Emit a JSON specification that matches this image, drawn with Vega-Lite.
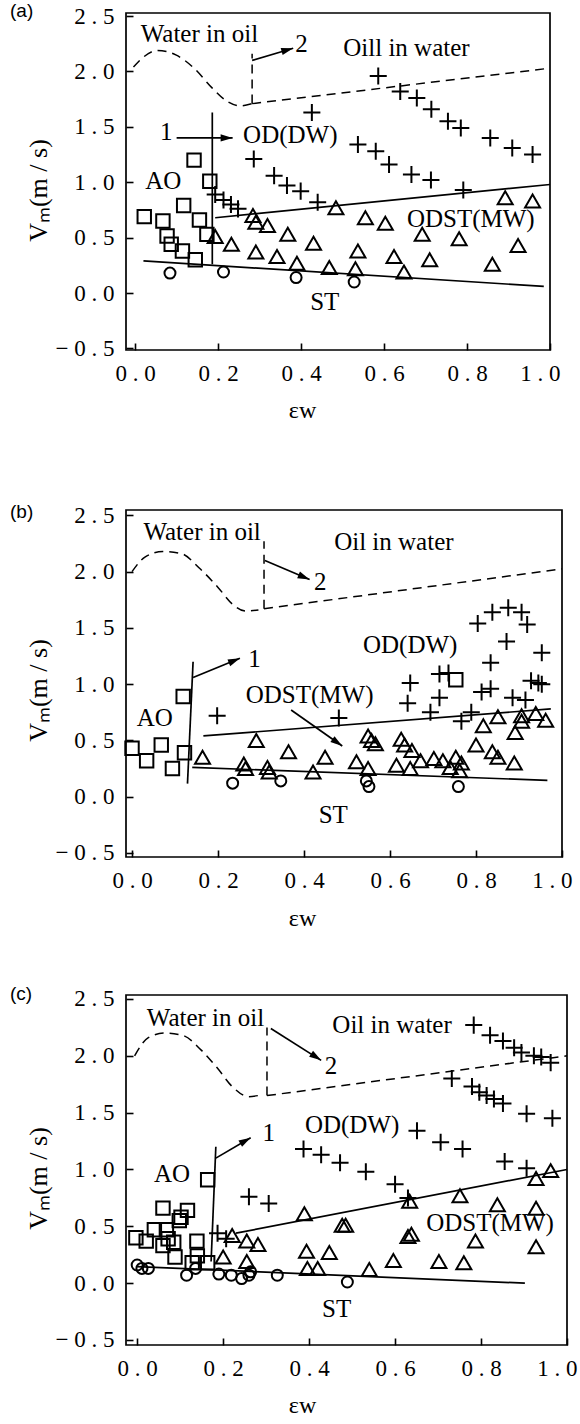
{
"$schema": "https://vega.github.io/schema/vega-lite/v6.json",
"autosize": "none",
"padding": {"left": 126, "top": 13, "right": 454, "bottom": 1411},
"background": "white",
"bounds": "flush",
"spacing": 0,
"config": {
 "view": {"stroke": "black", "strokeWidth": 1.7},
 "axis": {"domain": false, "grid": false, "tickColor": "black", "tickWidth": 1.6, "tickSize": -7, "labelFont": "Liberation Serif", "labelFontSize": 23, "labelColor": "black", "labelPadding": 19, "labelFlush": false, "labelOverlap": false, "labelBound": false, "titleFont": "Liberation Serif", "titleFontSize": 26, "titleFontWeight": "normal", "titleColor": "black", "titleAlign": "center", "titleBaseline": "middle"},
 "axisX": {"labelFlush": 1, "labelFlushOffset": 10, "titleFontSize": 24},
 "title": {"font": "Liberation Sans", "fontSize": 19, "fontWeight": "normal", "color": "black"}
},
"datasets": {
 "pts": [
  {"panel":"a","kind":"AO","x":0.022,"y":0.69},{"panel":"a","kind":"AO","x":0.067,"y":0.65},{"panel":"a","kind":"AO","x":0.077,"y":0.515},{"panel":"a","kind":"AO","x":0.087,"y":0.44},{"panel":"a","kind":"AO","x":0.114,"y":0.38},{"panel":"a","kind":"AO","x":0.117,"y":0.79},{"panel":"a","kind":"AO","x":0.142,"y":1.2},{"panel":"a","kind":"AO","x":0.145,"y":0.30},{"panel":"a","kind":"AO","x":0.155,"y":0.66},{"panel":"a","kind":"AO","x":0.173,"y":0.53},{"panel":"a","kind":"AO","x":0.18,"y":1.01},
  {"panel":"a","kind":"ST","x":0.084,"y":0.18},{"panel":"a","kind":"ST","x":0.213,"y":0.19},{"panel":"a","kind":"ST","x":0.388,"y":0.14},{"panel":"a","kind":"ST","x":0.528,"y":0.10},
  {"panel":"a","kind":"ODST","x":0.193,"y":0.51},{"panel":"a","kind":"ODST","x":0.232,"y":0.44},{"panel":"a","kind":"ODST","x":0.284,"y":0.70},{"panel":"a","kind":"ODST","x":0.291,"y":0.64},{"panel":"a","kind":"ODST","x":0.291,"y":0.37},{"panel":"a","kind":"ODST","x":0.319,"y":0.61},{"panel":"a","kind":"ODST","x":0.342,"y":0.33},{"panel":"a","kind":"ODST","x":0.368,"y":0.53},{"panel":"a","kind":"ODST","x":0.39,"y":0.27},{"panel":"a","kind":"ODST","x":0.43,"y":0.45},{"panel":"a","kind":"ODST","x":0.468,"y":0.23},{"panel":"a","kind":"ODST","x":0.484,"y":0.77},{"panel":"a","kind":"ODST","x":0.531,"y":0.22},{"panel":"a","kind":"ODST","x":0.537,"y":0.38},{"panel":"a","kind":"ODST","x":0.555,"y":0.68},{"panel":"a","kind":"ODST","x":0.603,"y":0.63},{"panel":"a","kind":"ODST","x":0.624,"y":0.33},{"panel":"a","kind":"ODST","x":0.648,"y":0.19},{"panel":"a","kind":"ODST","x":0.692,"y":0.53},{"panel":"a","kind":"ODST","x":0.71,"y":0.30},{"panel":"a","kind":"ODST","x":0.781,"y":0.49},{"panel":"a","kind":"ODST","x":0.861,"y":0.26},{"panel":"a","kind":"ODST","x":0.892,"y":0.86},{"panel":"a","kind":"ODST","x":0.923,"y":0.43},{"panel":"a","kind":"ODST","x":0.958,"y":0.83},
  {"panel":"a","kind":"OD","x":0.193,"y":0.89},{"panel":"a","kind":"OD","x":0.213,"y":0.84},{"panel":"a","kind":"OD","x":0.231,"y":0.80},{"panel":"a","kind":"OD","x":0.248,"y":0.76},{"panel":"a","kind":"OD","x":0.286,"y":1.21},{"panel":"a","kind":"OD","x":0.335,"y":1.06},{"panel":"a","kind":"OD","x":0.366,"y":0.97},{"panel":"a","kind":"OD","x":0.399,"y":0.92},{"panel":"a","kind":"OD","x":0.44,"y":0.82},{"panel":"a","kind":"OD","x":0.426,"y":1.63},{"panel":"a","kind":"OD","x":0.537,"y":1.34},{"panel":"a","kind":"OD","x":0.58,"y":1.28},{"panel":"a","kind":"OD","x":0.612,"y":1.16},{"panel":"a","kind":"OD","x":0.666,"y":1.07},{"panel":"a","kind":"OD","x":0.713,"y":1.02},{"panel":"a","kind":"OD","x":0.791,"y":0.93},{"panel":"a","kind":"OD","x":0.586,"y":1.96},{"panel":"a","kind":"OD","x":0.639,"y":1.82},{"panel":"a","kind":"OD","x":0.679,"y":1.76},{"panel":"a","kind":"OD","x":0.714,"y":1.66},{"panel":"a","kind":"OD","x":0.754,"y":1.55},{"panel":"a","kind":"OD","x":0.785,"y":1.49},{"panel":"a","kind":"OD","x":0.856,"y":1.40},{"panel":"a","kind":"OD","x":0.909,"y":1.31},{"panel":"a","kind":"OD","x":0.958,"y":1.25},
  {"panel":"b","kind":"AO","x":0.0,"y":0.43},{"panel":"b","kind":"AO","x":0.034,"y":0.32},{"panel":"b","kind":"AO","x":0.068,"y":0.46},{"panel":"b","kind":"AO","x":0.094,"y":0.25},{"panel":"b","kind":"AO","x":0.122,"y":0.39},{"panel":"b","kind":"AO","x":0.119,"y":0.89},{"panel":"b","kind":"AO","x":0.753,"y":1.04},
  {"panel":"b","kind":"ST","x":0.234,"y":0.12},{"panel":"b","kind":"ST","x":0.346,"y":0.14},{"panel":"b","kind":"ST","x":0.545,"y":0.14},{"panel":"b","kind":"ST","x":0.551,"y":0.09},{"panel":"b","kind":"ST","x":0.759,"y":0.09},
  {"panel":"b","kind":"ODST","x":0.164,"y":0.35},{"panel":"b","kind":"ODST","x":0.289,"y":0.50},{"panel":"b","kind":"ODST","x":0.26,"y":0.29},{"panel":"b","kind":"ODST","x":0.264,"y":0.25},{"panel":"b","kind":"ODST","x":0.315,"y":0.26},{"panel":"b","kind":"ODST","x":0.319,"y":0.22},{"panel":"b","kind":"ODST","x":0.364,"y":0.40},{"panel":"b","kind":"ODST","x":0.421,"y":0.22},{"panel":"b","kind":"ODST","x":0.449,"y":0.35},{"panel":"b","kind":"ODST","x":0.522,"y":0.31},{"panel":"b","kind":"ODST","x":0.549,"y":0.54},{"panel":"b","kind":"ODST","x":0.549,"y":0.25},{"panel":"b","kind":"ODST","x":0.557,"y":0.50},{"panel":"b","kind":"ODST","x":0.566,"y":0.47},{"panel":"b","kind":"ODST","x":0.615,"y":0.28},{"panel":"b","kind":"ODST","x":0.626,"y":0.51},{"panel":"b","kind":"ODST","x":0.634,"y":0.46},{"panel":"b","kind":"ODST","x":0.647,"y":0.25},{"panel":"b","kind":"ODST","x":0.651,"y":0.41},{"panel":"b","kind":"ODST","x":0.671,"y":0.32},{"panel":"b","kind":"ODST","x":0.702,"y":0.34},{"panel":"b","kind":"ODST","x":0.723,"y":0.32},{"panel":"b","kind":"ODST","x":0.74,"y":0.26},{"panel":"b","kind":"ODST","x":0.753,"y":0.35},{"panel":"b","kind":"ODST","x":0.762,"y":0.23},{"panel":"b","kind":"ODST","x":0.766,"y":0.30},{"panel":"b","kind":"ODST","x":0.80,"y":0.46},{"panel":"b","kind":"ODST","x":0.817,"y":0.63},{"panel":"b","kind":"ODST","x":0.838,"y":0.40},{"panel":"b","kind":"ODST","x":0.851,"y":0.35},{"panel":"b","kind":"ODST","x":0.851,"y":0.71},{"panel":"b","kind":"ODST","x":0.889,"y":0.30},{"panel":"b","kind":"ODST","x":0.891,"y":0.57},{"panel":"b","kind":"ODST","x":0.906,"y":0.67},{"panel":"b","kind":"ODST","x":0.906,"y":0.72},{"panel":"b","kind":"ODST","x":0.939,"y":0.74},{"panel":"b","kind":"ODST","x":0.962,"y":0.68},
  {"panel":"b","kind":"OD","x":0.198,"y":0.72},{"panel":"b","kind":"OD","x":0.481,"y":0.70},{"panel":"b","kind":"OD","x":0.641,"y":0.83},{"panel":"b","kind":"OD","x":0.647,"y":1.01},{"panel":"b","kind":"OD","x":0.694,"y":0.75},{"panel":"b","kind":"OD","x":0.715,"y":0.88},{"panel":"b","kind":"OD","x":0.715,"y":1.09},{"panel":"b","kind":"OD","x":0.736,"y":1.10},{"panel":"b","kind":"OD","x":0.766,"y":0.67},{"panel":"b","kind":"OD","x":0.789,"y":0.75},{"panel":"b","kind":"OD","x":0.804,"y":1.54},{"panel":"b","kind":"OD","x":0.813,"y":0.93},{"panel":"b","kind":"OD","x":0.834,"y":0.96},{"panel":"b","kind":"OD","x":0.834,"y":1.19},{"panel":"b","kind":"OD","x":0.838,"y":1.64},{"panel":"b","kind":"OD","x":0.871,"y":1.38},{"panel":"b","kind":"OD","x":0.875,"y":1.68},{"panel":"b","kind":"OD","x":0.885,"y":0.88},{"panel":"b","kind":"OD","x":0.906,"y":1.64},{"panel":"b","kind":"OD","x":0.915,"y":0.86},{"panel":"b","kind":"OD","x":0.919,"y":1.53},{"panel":"b","kind":"OD","x":0.928,"y":1.03},{"panel":"b","kind":"OD","x":0.945,"y":1.01},{"panel":"b","kind":"OD","x":0.953,"y":1.28},{"panel":"b","kind":"OD","x":0.953,"y":1.0},
  {"panel":"c","kind":"AO","x":-0.003,"y":0.40},{"panel":"c","kind":"AO","x":0.021,"y":0.37},{"panel":"c","kind":"AO","x":0.04,"y":0.47},{"panel":"c","kind":"AO","x":0.06,"y":0.66},{"panel":"c","kind":"AO","x":0.06,"y":0.33},{"panel":"c","kind":"AO","x":0.068,"y":0.47},{"panel":"c","kind":"AO","x":0.072,"y":0.39},{"panel":"c","kind":"AO","x":0.085,"y":0.36},{"panel":"c","kind":"AO","x":0.088,"y":0.23},{"panel":"c","kind":"AO","x":0.098,"y":0.55},{"panel":"c","kind":"AO","x":0.102,"y":0.58},{"panel":"c","kind":"AO","x":0.117,"y":0.64},{"panel":"c","kind":"AO","x":0.128,"y":0.18},{"panel":"c","kind":"AO","x":0.139,"y":0.37},{"panel":"c","kind":"AO","x":0.14,"y":0.24},{"panel":"c","kind":"AO","x":0.164,"y":0.18},{"panel":"c","kind":"AO","x":0.164,"y":0.91},
  {"panel":"c","kind":"ST","x":0.0,"y":0.16},{"panel":"c","kind":"ST","x":0.011,"y":0.13},{"panel":"c","kind":"ST","x":0.026,"y":0.13},{"panel":"c","kind":"ST","x":0.115,"y":0.07},{"panel":"c","kind":"ST","x":0.136,"y":0.13},{"panel":"c","kind":"ST","x":0.19,"y":0.08},{"panel":"c","kind":"ST","x":0.219,"y":0.07},{"panel":"c","kind":"ST","x":0.243,"y":0.04},{"panel":"c","kind":"ST","x":0.26,"y":0.07},{"panel":"c","kind":"ST","x":0.264,"y":0.10},{"panel":"c","kind":"ST","x":0.326,"y":0.07},{"panel":"c","kind":"ST","x":0.489,"y":0.01},
  {"panel":"c","kind":"ODST","x":0.2,"y":0.23},{"panel":"c","kind":"ODST","x":0.221,"y":0.42},{"panel":"c","kind":"ODST","x":0.255,"y":0.37},{"panel":"c","kind":"ODST","x":0.255,"y":0.19},{"panel":"c","kind":"ODST","x":0.281,"y":0.34},{"panel":"c","kind":"ODST","x":0.389,"y":0.61},{"panel":"c","kind":"ODST","x":0.394,"y":0.28},{"panel":"c","kind":"ODST","x":0.396,"y":0.13},{"panel":"c","kind":"ODST","x":0.42,"y":0.13},{"panel":"c","kind":"ODST","x":0.447,"y":0.27},{"panel":"c","kind":"ODST","x":0.477,"y":0.51},{"panel":"c","kind":"ODST","x":0.485,"y":0.51},{"panel":"c","kind":"ODST","x":0.54,"y":0.12},{"panel":"c","kind":"ODST","x":0.596,"y":0.20},{"panel":"c","kind":"ODST","x":0.63,"y":0.41},{"panel":"c","kind":"ODST","x":0.638,"y":0.43},{"panel":"c","kind":"ODST","x":0.634,"y":0.72},{"panel":"c","kind":"ODST","x":0.702,"y":0.19},{"panel":"c","kind":"ODST","x":0.751,"y":0.77},{"panel":"c","kind":"ODST","x":0.76,"y":0.18},{"panel":"c","kind":"ODST","x":0.787,"y":0.37},{"panel":"c","kind":"ODST","x":0.838,"y":0.69},{"panel":"c","kind":"ODST","x":0.928,"y":0.66},{"panel":"c","kind":"ODST","x":0.928,"y":0.32},{"panel":"c","kind":"ODST","x":0.928,"y":0.92},{"panel":"c","kind":"ODST","x":0.962,"y":0.99},
  {"panel":"c","kind":"OD","x":0.187,"y":0.44},{"panel":"c","kind":"OD","x":0.207,"y":0.39},{"panel":"c","kind":"OD","x":0.26,"y":0.76},{"panel":"c","kind":"OD","x":0.306,"y":0.70},{"panel":"c","kind":"OD","x":0.387,"y":1.18},{"panel":"c","kind":"OD","x":0.428,"y":1.13},{"panel":"c","kind":"OD","x":0.472,"y":1.06},{"panel":"c","kind":"OD","x":0.532,"y":0.98},{"panel":"c","kind":"OD","x":0.6,"y":0.87},{"panel":"c","kind":"OD","x":0.63,"y":0.75},{"panel":"c","kind":"OD","x":0.651,"y":1.34},{"panel":"c","kind":"OD","x":0.706,"y":1.24},{"panel":"c","kind":"OD","x":0.757,"y":1.18},{"panel":"c","kind":"OD","x":0.855,"y":1.07},{"panel":"c","kind":"OD","x":0.906,"y":1.01},{"panel":"c","kind":"OD","x":0.732,"y":1.80},{"panel":"c","kind":"OD","x":0.779,"y":1.73},{"panel":"c","kind":"OD","x":0.796,"y":1.68},{"panel":"c","kind":"OD","x":0.813,"y":1.65},{"panel":"c","kind":"OD","x":0.83,"y":1.62},{"panel":"c","kind":"OD","x":0.851,"y":1.58},{"panel":"c","kind":"OD","x":0.906,"y":1.49},{"panel":"c","kind":"OD","x":0.966,"y":1.45},{"panel":"c","kind":"OD","x":0.783,"y":2.27},{"panel":"c","kind":"OD","x":0.821,"y":2.18},{"panel":"c","kind":"OD","x":0.851,"y":2.13},{"panel":"c","kind":"OD","x":0.877,"y":2.07},{"panel":"c","kind":"OD","x":0.894,"y":2.03},{"panel":"c","kind":"OD","x":0.923,"y":2.0},{"panel":"c","kind":"OD","x":0.94,"y":1.99},{"panel":"c","kind":"OD","x":0.962,"y":1.94}
 ],
 "lines": [
  {"panel":"a","kind":"boundary","seg":"st","ord":1,"x":0.02,"y":0.29},{"panel":"a","kind":"boundary","seg":"st","ord":2,"x":0.985,"y":0.06},
  {"panel":"a","kind":"boundary","seg":"v1","ord":1,"x":0.186,"y":0.26},{"panel":"a","kind":"boundary","seg":"v1","ord":2,"x":0.186,"y":1.63},
  {"panel":"a","kind":"boundary","seg":"od","ord":1,"x":0.193,"y":0.68},{"panel":"a","kind":"boundary","seg":"od","ord":2,"x":1.0,"y":0.98},
  {"panel":"a","kind":"pointer","seg":"p1","ord":1,"x":0.10,"y":1.40},{"panel":"a","kind":"pointer","seg":"p1","ord":2,"x":0.235,"y":1.40},
  {"panel":"a","kind":"pointer","seg":"p2","ord":1,"x":0.282,"y":2.10},{"panel":"a","kind":"pointer","seg":"p2","ord":2,"x":0.381,"y":2.21},
  {"panel":"a","kind":"curve","seg":"c","ord":1,"x":-0.004,"y":2.04},{"panel":"a","kind":"curve","seg":"c","ord":2,"x":0.02,"y":2.13},{"panel":"a","kind":"curve","seg":"c","ord":3,"x":0.053,"y":2.19},{"panel":"a","kind":"curve","seg":"c","ord":4,"x":0.098,"y":2.15},{"panel":"a","kind":"curve","seg":"c","ord":5,"x":0.142,"y":2.03},{"panel":"a","kind":"curve","seg":"c","ord":6,"x":0.186,"y":1.85},{"panel":"a","kind":"curve","seg":"c","ord":7,"x":0.222,"y":1.73},{"panel":"a","kind":"curve","seg":"c","ord":8,"x":0.253,"y":1.69},{"panel":"a","kind":"curve","seg":"c","ord":9,"x":0.282,"y":1.71},
  {"panel":"a","kind":"transition","seg":"tv","ord":1,"x":0.282,"y":1.71},{"panel":"a","kind":"transition","seg":"tv","ord":2,"x":0.282,"y":2.16},
  {"panel":"a","kind":"transition","seg":"tl","ord":1,"x":0.282,"y":1.71},{"panel":"a","kind":"transition","seg":"tl","ord":2,"x":1.0,"y":2.03},
  {"panel":"b","kind":"boundary","seg":"st","ord":1,"x":0.14,"y":0.26},{"panel":"b","kind":"boundary","seg":"st","ord":2,"x":0.966,"y":0.145},
  {"panel":"b","kind":"boundary","seg":"v1","ord":1,"x":0.129,"y":0.116},{"panel":"b","kind":"boundary","seg":"v1","ord":2,"x":0.142,"y":1.20},
  {"panel":"b","kind":"boundary","seg":"od","ord":1,"x":0.166,"y":0.54},{"panel":"b","kind":"boundary","seg":"od","ord":2,"x":0.974,"y":0.78},
  {"panel":"b","kind":"pointer","seg":"p1","ord":1,"x":0.142,"y":1.06},{"panel":"b","kind":"pointer","seg":"p1","ord":2,"x":0.251,"y":1.23},
  {"panel":"b","kind":"pointer","seg":"p2","ord":1,"x":0.309,"y":2.10},{"panel":"b","kind":"pointer","seg":"p2","ord":2,"x":0.413,"y":1.93},
  {"panel":"b","kind":"pointer","seg":"pm","ord":1,"x":0.37,"y":0.77},{"panel":"b","kind":"pointer","seg":"pm","ord":2,"x":0.489,"y":0.45},
  {"panel":"b","kind":"curve","seg":"c","ord":1,"x":0.0,"y":2.0},{"panel":"b","kind":"curve","seg":"c","ord":2,"x":0.03,"y":2.13},{"panel":"b","kind":"curve","seg":"c","ord":3,"x":0.072,"y":2.18},{"panel":"b","kind":"curve","seg":"c","ord":4,"x":0.115,"y":2.16},{"panel":"b","kind":"curve","seg":"c","ord":5,"x":0.157,"y":2.03},{"panel":"b","kind":"curve","seg":"c","ord":6,"x":0.2,"y":1.86},{"panel":"b","kind":"curve","seg":"c","ord":7,"x":0.234,"y":1.71},{"panel":"b","kind":"curve","seg":"c","ord":8,"x":0.264,"y":1.65},{"panel":"b","kind":"curve","seg":"c","ord":9,"x":0.294,"y":1.66},
  {"panel":"b","kind":"transition","seg":"tv","ord":1,"x":0.307,"y":1.67},{"panel":"b","kind":"transition","seg":"tv","ord":2,"x":0.307,"y":2.27},
  {"panel":"b","kind":"transition","seg":"tl","ord":1,"x":0.307,"y":1.67},{"panel":"b","kind":"transition","seg":"tl","ord":2,"x":1.0,"y":2.025},
  {"panel":"c","kind":"boundary","seg":"st","ord":1,"x":0.0,"y":0.146},{"panel":"c","kind":"boundary","seg":"st","ord":2,"x":0.902,"y":0.0},
  {"panel":"c","kind":"boundary","seg":"v1","ord":1,"x":0.172,"y":0.19},{"panel":"c","kind":"boundary","seg":"v1","ord":2,"x":0.183,"y":1.2},
  {"panel":"c","kind":"boundary","seg":"od","ord":1,"x":0.23,"y":0.44},{"panel":"c","kind":"boundary","seg":"od","ord":2,"x":1.0,"y":1.0},
  {"panel":"c","kind":"pointer","seg":"p1","ord":1,"x":0.183,"y":1.10},{"panel":"c","kind":"pointer","seg":"p1","ord":2,"x":0.264,"y":1.28},
  {"panel":"c","kind":"pointer","seg":"p2","ord":1,"x":0.311,"y":2.24},{"panel":"c","kind":"pointer","seg":"p2","ord":2,"x":0.428,"y":1.96},
  {"panel":"c","kind":"curve","seg":"c","ord":1,"x":-0.006,"y":2.0},{"panel":"c","kind":"curve","seg":"c","ord":2,"x":0.026,"y":2.16},{"panel":"c","kind":"curve","seg":"c","ord":3,"x":0.064,"y":2.2},{"panel":"c","kind":"curve","seg":"c","ord":4,"x":0.106,"y":2.18},{"panel":"c","kind":"curve","seg":"c","ord":5,"x":0.149,"y":2.05},{"panel":"c","kind":"curve","seg":"c","ord":6,"x":0.187,"y":1.89},{"panel":"c","kind":"curve","seg":"c","ord":7,"x":0.221,"y":1.73},{"panel":"c","kind":"curve","seg":"c","ord":8,"x":0.26,"y":1.64},{"panel":"c","kind":"curve","seg":"c","ord":9,"x":0.281,"y":1.65},
  {"panel":"c","kind":"transition","seg":"tv","ord":1,"x":0.302,"y":1.65},{"panel":"c","kind":"transition","seg":"tv","ord":2,"x":0.302,"y":2.25},
  {"panel":"c","kind":"transition","seg":"tl","ord":1,"x":0.302,"y":1.65},{"panel":"c","kind":"transition","seg":"tl","ord":2,"x":1.0,"y":2.0}
 ],
 "labels": [
  {"panel":"a","label":"Water in oil","x":0.155,"y":2.34},{"panel":"a","label":"Oill in water","x":0.654,"y":2.21},{"panel":"a","label":"2","x":0.401,"y":2.25},{"panel":"a","label":"1","x":0.075,"y":1.45},{"panel":"a","label":"OD(DW)","x":0.374,"y":1.43},{"panel":"a","label":"AO","x":0.068,"y":1.01},{"panel":"a","label":"ODST(MW)","x":0.809,"y":0.667},{"panel":"a","label":"ST","x":0.457,"y":-0.08},
  {"panel":"b","label":"Water in oil","x":0.163,"y":2.35},{"panel":"b","label":"Oil in water","x":0.609,"y":2.26},{"panel":"b","label":"2","x":0.438,"y":1.91},{"panel":"b","label":"1","x":0.285,"y":1.22},{"panel":"b","label":"OD(DW)","x":0.647,"y":1.35},{"panel":"b","label":"ODST(MW)","x":0.413,"y":0.90},{"panel":"b","label":"AO","x":0.053,"y":0.70},{"panel":"b","label":"ST","x":0.468,"y":-0.165},
  {"panel":"c","label":"Water in oil","x":0.159,"y":2.33},{"panel":"c","label":"Oil in water","x":0.593,"y":2.27},{"panel":"c","label":"2","x":0.451,"y":1.91},{"panel":"c","label":"1","x":0.306,"y":1.32},{"panel":"c","label":"OD(DW)","x":0.50,"y":1.39},{"panel":"c","label":"AO","x":0.081,"y":0.96},{"panel":"c","label":"ODST(MW)","x":0.821,"y":0.53},{"panel":"c","label":"ST","x":0.464,"y":-0.23}
 ],
 "arrows": [
  {"panel":"a","kind":"arr-16","x":0.381,"y":2.21},{"panel":"a","kind":"arr0","x":0.235,"y":1.40},
  {"panel":"b","kind":"arr23","x":0.413,"y":1.93},{"panel":"b","kind":"arr-22","x":0.251,"y":1.23},{"panel":"b","kind":"arr35","x":0.489,"y":0.45},
  {"panel":"c","kind":"arr33","x":0.428,"y":1.96},{"panel":"c","kind":"arr-30","x":0.264,"y":1.28}
 ]
},
"vconcat": [
 {
  "width": 424, "height": 337,
  "title": {"text": "(a)", "anchor": "start", "frame": "group", "offset": 0, "baseline": "middle", "dx": -116, "dy": 25},
  "encoding": {
   "x": {"field": "x", "type": "quantitative", "scale": {"domain": [-0.022, 1.0], "nice": false, "zero": false}, "axis": {"values": [0, 0.2, 0.4, 0.6, 0.8, 1.0], "format": ".1f", "labelExpr": "replace(replace(datum.label, '.', ' . '), '\u2212', '\u2212 ')", "title": "εw", "titleX": 176, "titleY": 60}},
   "y": {"field": "y", "type": "quantitative", "scale": {"domain": [-0.514, 2.528], "nice": false, "zero": false}, "axis": {"values": [-0.5, 0, 0.5, 1, 1.5, 2, 2.5], "format": ".1f", "labelExpr": "replace(replace(datum.label, '.', ' . '), '\u2212', '\u2212 ')", "title": "Vₘ(m / s)", "titleX": -88, "titleY": 177}}
  },
  "layer": [
   {"data": {"name": "lines"}, "transform": [{"filter": "datum.panel === 'a' && (datum.kind === 'boundary' || datum.kind === 'pointer')"}], "mark": {"type": "line", "color": "black", "strokeWidth": 1.7}, "encoding": {"detail": {"field": "seg"}, "order": {"field": "ord"}}},
   {"data": {"name": "lines"}, "transform": [{"filter": "datum.panel === 'a' && datum.kind === 'transition'"}], "mark": {"type": "line", "color": "black", "strokeWidth": 1.5, "strokeDash": [9, 6]}, "encoding": {"detail": {"field": "seg"}, "order": {"field": "ord"}}},
   {"data": {"name": "lines"}, "transform": [{"filter": "datum.panel === 'a' && datum.kind === 'curve'"}], "mark": {"type": "line", "color": "black", "strokeWidth": 1.5, "strokeDash": [9, 6], "interpolate": "monotone"}, "encoding": {"detail": {"field": "seg"}, "order": {"field": "ord"}}},
   {"data": {"name": "pts"}, "transform": [{"filter": "datum.panel === 'a'"}], "mark": {"type": "point", "filled": false, "stroke": "black", "strokeWidth": 2, "opacity": 1},
    "encoding": {"shape": {"field": "kind", "type": "nominal", "legend": null, "scale": {"domain": ["AO","ST","ODST","OD","arr0","arr-16","arr23","arr-22","arr35","arr33","arr-30"], "range": ["square","circle","triangle-up","M-1,0L1,0M0,-1L0,1","M0,0L-1,0.3L-1,-0.3Z","M0,0L-0.878,0.564L-1.044,-0.012Z","M0,0L-1.038,-0.115L-0.804,-0.667Z","M0,0L-0.815,0.653L-1.04,0.097Z","M0,0L-0.991,-0.328L-0.647,-0.82Z","M0,0L-1.003,-0.293L-0.675,-0.797Z","M0,0L-0.716,0.76L-1.016,0.24Z"]}},
     "size": {"field": "kind", "type": "nominal", "legend": null, "scale": {"type": "ordinal", "domain": ["AO","ST","ODST","OD"], "range": [180, 121, 225, 290]}}}},
   {"data": {"name": "labels"}, "transform": [{"filter": "datum.panel === 'a'"}], "mark": {"type": "text", "font": "Liberation Serif", "fontSize": 25, "align": "center", "baseline": "middle", "color": "black"}, "encoding": {"text": {"field": "label"}}},
   {"data": {"name": "arrows"}, "transform": [{"filter": "datum.panel === 'a'"}], "mark": {"type": "point", "filled": true, "color": "black", "opacity": 1, "size": 576},
    "encoding": {"shape": {"field": "kind", "type": "nominal", "legend": null, "scale": {"domain": ["AO","ST","ODST","OD","arr0","arr-16","arr23","arr-22","arr35","arr33","arr-30"], "range": ["square","circle","triangle-up","M-1,0L1,0M0,-1L0,1","M0,0L-1,0.3L-1,-0.3Z","M0,0L-0.878,0.564L-1.044,-0.012Z","M0,0L-1.038,-0.115L-0.804,-0.667Z","M0,0L-0.815,0.653L-1.04,0.097Z","M0,0L-0.991,-0.328L-0.647,-0.82Z","M0,0L-1.003,-0.293L-0.675,-0.797Z","M0,0L-0.716,0.76L-1.016,0.24Z"]}}}}
  ]
 },
 {"width": 10, "height": 160, "data": {"values": []}, "mark": {"type": "point", "opacity": 0}, "encoding": {}, "view": {"stroke": null}},
 {
  "width": 436, "height": 347,
  "title": {"text": "(b)", "anchor": "start", "frame": "group", "offset": 0, "baseline": "middle", "dx": -116, "dy": 27},
  "encoding": {
   "x": {"field": "x", "type": "quantitative", "scale": {"domain": [-0.014, 1.0], "nice": false, "zero": false}, "axis": {"values": [0, 0.2, 0.4, 0.6, 0.8, 1.0], "format": ".1f", "labelExpr": "replace(replace(datum.label, '.', ' . '), '\u2212', '\u2212 ')", "title": "εw", "titleX": 176, "titleY": 61}},
   "y": {"field": "y", "type": "quantitative", "scale": {"domain": [-0.536, 2.548], "nice": false, "zero": false}, "axis": {"values": [-0.5, 0, 0.5, 1, 1.5, 2, 2.5], "format": ".1f", "labelExpr": "replace(replace(datum.label, '.', ' . '), '\u2212', '\u2212 ')", "title": "Vₘ(m / s)", "titleX": -88, "titleY": 180}}
  },
  "layer": [
   {"data": {"name": "lines"}, "transform": [{"filter": "datum.panel === 'b' && (datum.kind === 'boundary' || datum.kind === 'pointer')"}], "mark": {"type": "line", "color": "black", "strokeWidth": 1.7}, "encoding": {"detail": {"field": "seg"}, "order": {"field": "ord"}}},
   {"data": {"name": "lines"}, "transform": [{"filter": "datum.panel === 'b' && datum.kind === 'transition'"}], "mark": {"type": "line", "color": "black", "strokeWidth": 1.5, "strokeDash": [9, 6]}, "encoding": {"detail": {"field": "seg"}, "order": {"field": "ord"}}},
   {"data": {"name": "lines"}, "transform": [{"filter": "datum.panel === 'b' && datum.kind === 'curve'"}], "mark": {"type": "line", "color": "black", "strokeWidth": 1.5, "strokeDash": [9, 6], "interpolate": "monotone"}, "encoding": {"detail": {"field": "seg"}, "order": {"field": "ord"}}},
   {"data": {"name": "pts"}, "transform": [{"filter": "datum.panel === 'b'"}], "mark": {"type": "point", "filled": false, "stroke": "black", "strokeWidth": 2, "opacity": 1},
    "encoding": {"shape": {"field": "kind", "type": "nominal", "legend": null, "scale": {"domain": ["AO","ST","ODST","OD","arr0","arr-16","arr23","arr-22","arr35","arr33","arr-30"], "range": ["square","circle","triangle-up","M-1,0L1,0M0,-1L0,1","M0,0L-1,0.3L-1,-0.3Z","M0,0L-0.878,0.564L-1.044,-0.012Z","M0,0L-1.038,-0.115L-0.804,-0.667Z","M0,0L-0.815,0.653L-1.04,0.097Z","M0,0L-0.991,-0.328L-0.647,-0.82Z","M0,0L-1.003,-0.293L-0.675,-0.797Z","M0,0L-0.716,0.76L-1.016,0.24Z"]}},
     "size": {"field": "kind", "type": "nominal", "legend": null, "scale": {"type": "ordinal", "domain": ["AO","ST","ODST","OD"], "range": [180, 121, 225, 290]}}}},
   {"data": {"name": "labels"}, "transform": [{"filter": "datum.panel === 'b'"}], "mark": {"type": "text", "font": "Liberation Serif", "fontSize": 25, "align": "center", "baseline": "middle", "color": "black"}, "encoding": {"text": {"field": "label"}}},
   {"data": {"name": "arrows"}, "transform": [{"filter": "datum.panel === 'b'"}], "mark": {"type": "point", "filled": true, "color": "black", "opacity": 1, "size": 576},
    "encoding": {"shape": {"field": "kind", "type": "nominal", "legend": null, "scale": {"domain": ["AO","ST","ODST","OD","arr0","arr-16","arr23","arr-22","arr35","arr33","arr-30"], "range": ["square","circle","triangle-up","M-1,0L1,0M0,-1L0,1","M0,0L-1,0.3L-1,-0.3Z","M0,0L-0.878,0.564L-1.044,-0.012Z","M0,0L-1.038,-0.115L-0.804,-0.667Z","M0,0L-0.815,0.653L-1.04,0.097Z","M0,0L-0.991,-0.328L-0.647,-0.82Z","M0,0L-1.003,-0.293L-0.675,-0.797Z","M0,0L-0.716,0.76L-1.016,0.24Z"]}}}}
  ]
 },
 {"width": 10, "height": 138, "data": {"values": []}, "mark": {"type": "point", "opacity": 0}, "encoding": {}, "view": {"stroke": null}},
 {
  "width": 441, "height": 350,
  "title": {"text": "(c)", "anchor": "start", "frame": "group", "offset": 0, "baseline": "middle", "dx": -116, "dy": 25},
  "encoding": {
   "x": {"field": "x", "type": "quantitative", "scale": {"domain": [-0.026, 1.0], "nice": false, "zero": false}, "axis": {"values": [0, 0.2, 0.4, 0.6, 0.8, 1.0], "format": ".1f", "labelExpr": "replace(replace(datum.label, '.', ' . '), '\u2212', '\u2212 ')", "title": "εw", "titleX": 176, "titleY": 60}},
   "y": {"field": "y", "type": "quantitative", "scale": {"domain": [-0.544, 2.535], "nice": false, "zero": false}, "axis": {"values": [-0.5, 0, 0.5, 1, 1.5, 2, 2.5], "format": ".1f", "labelExpr": "replace(replace(datum.label, '.', ' . '), '\u2212', '\u2212 ')", "title": "Vₘ(m / s)", "titleX": -88, "titleY": 183}}
  },
  "layer": [
   {"data": {"name": "lines"}, "transform": [{"filter": "datum.panel === 'c' && (datum.kind === 'boundary' || datum.kind === 'pointer')"}], "mark": {"type": "line", "color": "black", "strokeWidth": 1.7}, "encoding": {"detail": {"field": "seg"}, "order": {"field": "ord"}}},
   {"data": {"name": "lines"}, "transform": [{"filter": "datum.panel === 'c' && datum.kind === 'transition'"}], "mark": {"type": "line", "color": "black", "strokeWidth": 1.5, "strokeDash": [9, 6]}, "encoding": {"detail": {"field": "seg"}, "order": {"field": "ord"}}},
   {"data": {"name": "lines"}, "transform": [{"filter": "datum.panel === 'c' && datum.kind === 'curve'"}], "mark": {"type": "line", "color": "black", "strokeWidth": 1.5, "strokeDash": [9, 6], "interpolate": "monotone"}, "encoding": {"detail": {"field": "seg"}, "order": {"field": "ord"}}},
   {"data": {"name": "pts"}, "transform": [{"filter": "datum.panel === 'c'"}], "mark": {"type": "point", "filled": false, "stroke": "black", "strokeWidth": 2, "opacity": 1},
    "encoding": {"shape": {"field": "kind", "type": "nominal", "legend": null, "scale": {"domain": ["AO","ST","ODST","OD","arr0","arr-16","arr23","arr-22","arr35","arr33","arr-30"], "range": ["square","circle","triangle-up","M-1,0L1,0M0,-1L0,1","M0,0L-1,0.3L-1,-0.3Z","M0,0L-0.878,0.564L-1.044,-0.012Z","M0,0L-1.038,-0.115L-0.804,-0.667Z","M0,0L-0.815,0.653L-1.04,0.097Z","M0,0L-0.991,-0.328L-0.647,-0.82Z","M0,0L-1.003,-0.293L-0.675,-0.797Z","M0,0L-0.716,0.76L-1.016,0.24Z"]}},
     "size": {"field": "kind", "type": "nominal", "legend": null, "scale": {"type": "ordinal", "domain": ["AO","ST","ODST","OD"], "range": [180, 121, 225, 290]}}}},
   {"data": {"name": "labels"}, "transform": [{"filter": "datum.panel === 'c'"}], "mark": {"type": "text", "font": "Liberation Serif", "fontSize": 25, "align": "center", "baseline": "middle", "color": "black"}, "encoding": {"text": {"field": "label"}}},
   {"data": {"name": "arrows"}, "transform": [{"filter": "datum.panel === 'c'"}], "mark": {"type": "point", "filled": true, "color": "black", "opacity": 1, "size": 576},
    "encoding": {"shape": {"field": "kind", "type": "nominal", "legend": null, "scale": {"domain": ["AO","ST","ODST","OD","arr0","arr-16","arr23","arr-22","arr35","arr33","arr-30"], "range": ["square","circle","triangle-up","M-1,0L1,0M0,-1L0,1","M0,0L-1,0.3L-1,-0.3Z","M0,0L-0.878,0.564L-1.044,-0.012Z","M0,0L-1.038,-0.115L-0.804,-0.667Z","M0,0L-0.815,0.653L-1.04,0.097Z","M0,0L-0.991,-0.328L-0.647,-0.82Z","M0,0L-1.003,-0.293L-0.675,-0.797Z","M0,0L-0.716,0.76L-1.016,0.24Z"]}}}}
  ]
 }
]
}
